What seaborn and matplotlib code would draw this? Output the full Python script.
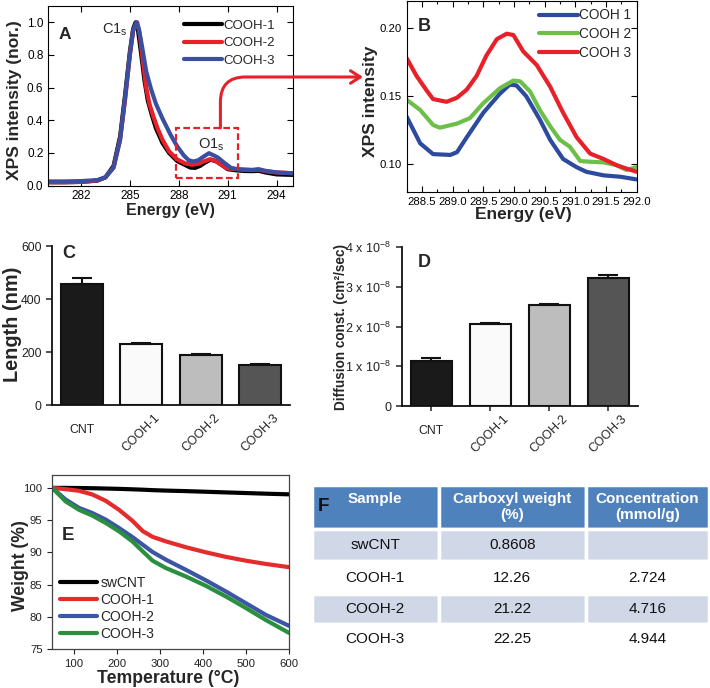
import matplotlib
matplotlib.use("Agg")
import numpy as np
import pandas as pd
import matplotlib.pyplot as plt
import matplotlib.transforms as mtrans
import seaborn as sns
from matplotlib.patches import Rectangle, ConnectionPatch
from matplotlib.ticker import MultipleLocator, FormatStrFormatter, FuncFormatter

# ---------------- data ----------------
# A: XPS survey (C1s / O1s)
xps_cooh1_ev = [280.0, 281.0, 282.0, 283.0, 283.5, 284.0, 284.4, 284.7, 285.0, 285.2, 285.35,
                285.5, 285.7, 285.9, 286.1, 286.35, 286.6, 287.0, 287.4, 287.9, 288.4, 288.7,
                289.0, 289.3, 289.6, 289.95, 290.3, 290.6, 291.0, 291.5, 292.0, 292.5, 292.9,
                293.3, 294.0, 295.0]
xps_cooh1 = [0.02, 0.02, 0.022, 0.03, 0.05, 0.12, 0.30, 0.55, 0.82, 0.96, 1.0,
             0.95, 0.80, 0.64, 0.52, 0.43, 0.35, 0.26, 0.20, 0.15, 0.125, 0.11,
             0.108, 0.12, 0.14, 0.158, 0.148, 0.128, 0.10, 0.093, 0.089, 0.088, 0.09,
             0.08, 0.068, 0.065]
xps_cooh2_ev = [280.0, 281.0, 282.0, 283.0, 283.5, 284.0, 284.4, 284.7, 285.0, 285.2, 285.45,
                285.6, 285.8, 286.0, 286.2, 286.45, 286.7, 287.0, 287.4, 287.9, 288.4, 288.8,
                289.2, 289.5, 289.9, 290.2, 290.6, 291.0, 291.5, 292.0, 292.5, 292.9, 293.3,
                294.0, 295.0]
xps_cooh2 = [0.02, 0.02, 0.022, 0.03, 0.05, 0.11, 0.28, 0.52, 0.80, 0.95, 1.0,
             0.93, 0.76, 0.60, 0.50, 0.42, 0.35, 0.28, 0.21, 0.16, 0.135, 0.127,
             0.133, 0.146, 0.161, 0.153, 0.128, 0.104, 0.10, 0.098, 0.096, 0.097, 0.088,
             0.08, 0.075]
xps_cooh3_ev = [280.0, 281.0, 282.0, 283.0, 283.5, 284.0, 284.4, 284.7, 285.0, 285.2, 285.4,
                285.55, 285.75, 286.0, 286.3, 286.6, 287.0, 287.5, 287.9, 288.3, 288.6, 288.9,
                289.2, 289.5, 289.85, 290.15, 290.4, 290.8, 291.2, 291.6, 292.0, 292.5, 292.9,
                293.3, 294.0, 295.0]
xps_cooh3 = [0.025, 0.025, 0.027, 0.033, 0.05, 0.11, 0.28, 0.53, 0.80, 0.95, 1.0,
             0.96, 0.85, 0.70, 0.59, 0.50, 0.41, 0.31, 0.24, 0.185, 0.155, 0.147,
             0.155, 0.176, 0.198, 0.184, 0.171, 0.138, 0.108, 0.10, 0.096, 0.094, 0.10,
             0.09, 0.08, 0.075]

# B: O1s zoom
o1s_1_ev = [288.25, 288.47, 288.68, 288.96, 289.07, 289.23, 289.5, 289.77, 289.93, 290.04,
            290.2, 290.42, 290.59, 290.8, 291.02, 291.18, 291.46, 291.73, 292.0]
o1s_1 = [0.135, 0.1155, 0.1076, 0.107, 0.109, 0.120, 0.138, 0.152, 0.1586, 0.158,
         0.150, 0.133, 0.118, 0.104, 0.098, 0.0946, 0.092, 0.091, 0.089]
o1s_2_ev = [288.25, 288.47, 288.68, 288.79, 289.07, 289.28, 289.5, 289.77, 289.99, 290.1,
            290.26, 290.42, 290.59, 290.75, 290.91, 291.08, 291.24, 291.46, 291.67, 291.83, 292.0]
o1s_2 = [0.1475, 0.140, 0.129, 0.127, 0.130, 0.134, 0.145, 0.156, 0.1616, 0.161,
         0.1537, 0.140, 0.128, 0.118, 0.113, 0.1025, 0.102, 0.1015, 0.0995, 0.096, 0.098]
o1s_3_ev = [288.25, 288.41, 288.58, 288.68, 288.9, 289.07, 289.23, 289.39, 289.55, 289.72,
            289.88, 289.99, 290.15, 290.37, 290.59, 290.8, 291.02, 291.24, 291.46, 291.67,
            291.83, 292.0]
o1s_3 = [0.178, 0.165, 0.154, 0.148, 0.146, 0.149, 0.155, 0.165, 0.180, 0.192,
         0.196, 0.195, 0.183, 0.173, 0.157, 0.138, 0.120, 0.108, 0.104, 0.0995,
         0.097, 0.0946]

# C / D: bars
bar_samples = ["CNT", "COOH-1", "COOH-2", "COOH-3"]
length_nm = [455, 232, 190, 150]
length_err = [23, 3, 3, 4]
diffusion = [1.14e-8, 2.06e-8, 2.53e-8, 3.21e-8]
diffusion_err = [0.06e-8, 0.02e-8, 0.03e-8, 0.08e-8]
bar_colors = ["#1a1a1a", "#fafafa", "#bdbdbd", "#555555"]

# E: TGA
tga_temp = [50, 81, 112, 143, 174, 205, 236, 260, 283, 314, 360, 407, 453, 500, 546, 600]
tga_swcnt = [100.0, 100.0, 99.98, 99.95, 99.9, 99.85, 99.78, 99.72, 99.65, 99.58,
             99.5, 99.4, 99.3, 99.2, 99.1, 99.0]
tga_cooh1 = [100.0, 99.8, 99.55, 98.98, 98.0, 96.6, 94.9, 93.3, 92.4, 91.7,
             90.8, 90.0, 89.3, 88.7, 88.2, 87.7]
tga_cooh2 = [100.0, 98.19, 96.9, 96.1, 95.08, 93.78, 92.38, 91.19, 90.05, 88.86,
             87.3, 85.65, 83.94, 82.1, 80.3, 78.6]
tga_cooh3 = [100.0, 97.9, 96.6, 95.7, 94.56, 93.26, 91.7, 90.16, 88.7, 87.56,
             86.27, 84.8, 83.16, 81.35, 79.5, 77.5]

# F: table
table_header = ["Sample\n ", "Carboxyl weight\n(%)", "Concentration\n(mmol/g)"]
table_rows = [["swCNT", "0.8608", ""],
              ["COOH-1", "12.26", "2.724"],
              ["COOH-2", "21.22", "4.716"],
              ["COOH-3", "22.25", "4.944"]]

RED = "#e8202a"
BLUE = "#3a4fa0"
GREEN = "#6cc04a"

# ---------------- style ----------------
sns.set_style("ticks")
plt.rcParams["font.family"] = ["Liberation Sans", "DejaVu Sans"]
plt.rcParams["mathtext.fontset"] = "custom"
plt.rcParams["mathtext.rm"] = "Liberation Sans"
plt.rcParams["mathtext.it"] = "Liberation Sans:italic"
plt.rcParams["mathtext.bf"] = "Liberation Sans:bold"

W, H = 710, 688
fig = plt.figure(figsize=(W / 100, H / 100), dpi=100)


def px_axes(l, t, r, b):
    return fig.add_axes([l / W, 1 - b / H, (r - l) / W, (b - t) / H])


# ---------------- A ----------------
ax_a = px_axes(48.3, 6, 293, 185.5)
sns.lineplot(x=xps_cooh1_ev, y=xps_cooh1, ax=ax_a, color="black", lw=3, label="COOH-1")
sns.lineplot(x=xps_cooh2_ev, y=xps_cooh2, ax=ax_a, color=RED, lw=3, label="COOH-2")
sns.lineplot(x=xps_cooh3_ev, y=xps_cooh3, ax=ax_a, color=BLUE, lw=3, label="COOH-3")
ax_a.set_xlim(280, 295)
ax_a.set_ylim(0, 1.1)
ax_a.set_xticks([282, 285, 288, 291, 294])
ax_a.set_yticks([0.0, 0.2, 0.4, 0.6, 0.8, 1.0])
ax_a.yaxis.set_major_formatter(FormatStrFormatter("%.1f"))
ax_a.tick_params(direction="in", top=True, right=True, length=4, width=0.8,
                 labelsize=8.5, colors="black")
for s in ax_a.spines.values():
    s.set_color("black")
    s.set_linewidth(0.8)
ax_a.set_xlabel("Energy (eV)", fontsize=11.5, fontweight="bold")
ax_a.set_ylabel("XPS intensity (nor.)", fontsize=12.5, fontweight="bold")
ax_a.xaxis.set_label_coords(0.5, -0.095)
ax_a.yaxis.set_label_coords(-0.108, 0.476)
ax_a.legend(loc="upper left", bbox_to_anchor=(0.555, 0.925), frameon=False, fontsize=9.5,
            handlelength=2.9, handletextpad=0.05, labelspacing=0.4, borderpad=0,
            borderaxespad=0)
ax_a.text(0.04, 0.844, "A", transform=ax_a.transAxes, fontsize=12.5, fontweight="bold",
          va="center", ha="left")
ax_a.text(0.218, 0.848, r"C1$_\mathregular{s}$", transform=ax_a.transAxes, fontsize=10.5,
          va="baseline", ha="left")
ax_a.text(0.612, 0.205, r"O1$_\mathregular{s}$", transform=ax_a.transAxes, fontsize=10.5,
          va="baseline", ha="left", zorder=6)
ax_a.add_patch(Rectangle((287.85, 0.043), 3.77, 0.31, fill=False, ec=RED, lw=1.6,
                         ls=(0, (3, 1.5)), zorder=5))
arrow = ConnectionPatch(xyA=(290.55, 0.353), coordsA=ax_a.transData,
                        xyB=(363 / W, 1 - 77 / H), coordsB=fig.transFigure,
                        arrowstyle="->,head_length=0.7,head_width=0.45",
                        connectionstyle="angle,angleA=90,angleB=0,rad=25",
                        color=RED, lw=2.2)
fig.add_artist(arrow)

# ---------------- B ----------------
ax_b = px_axes(406.7, 1, 636.7, 191.7)
sns.lineplot(x=o1s_1_ev, y=o1s_1, ax=ax_b, color="#2c4a9e", lw=3, label="COOH 1")
sns.lineplot(x=o1s_2_ev, y=o1s_2, ax=ax_b, color=GREEN, lw=3, label="COOH 2")
sns.lineplot(x=o1s_3_ev, y=o1s_3, ax=ax_b, color=RED, lw=3, label="COOH 3")
ax_b.set_xlim(288.25, 292.0)
ax_b.set_ylim(0.08, 0.22)
ax_b.xaxis.set_major_locator(MultipleLocator(0.5))
ax_b.xaxis.set_minor_locator(MultipleLocator(0.25))
ax_b.xaxis.set_major_formatter(FormatStrFormatter("%.1f"))
ax_b.yaxis.set_major_locator(MultipleLocator(0.05))
ax_b.yaxis.set_major_formatter(FormatStrFormatter("%.2f"))
ax_b.tick_params(which="both", direction="in", top=True, right=True, width=0.8,
                 labelsize=8.2, colors="black")
ax_b.tick_params(which="major", length=4)
ax_b.tick_params(which="minor", length=2.5)
for s in ax_b.spines.values():
    s.set_color("black")
    s.set_linewidth(0.8)
ax_b.set_xlabel("Energy (eV)", fontsize=12.5, fontweight="bold")
ax_b.set_ylabel("XPS intensity", fontsize=12.5, fontweight="bold")
ax_b.xaxis.set_label_coords(0.507, -0.08)
ax_b.yaxis.set_label_coords(-0.125, 0.472)
ax_b.legend(loc="upper left", bbox_to_anchor=(0.575, 0.961), frameon=False, fontsize=9.8,
            handlelength=2.9, handletextpad=0.05, labelspacing=0.35, borderpad=0,
            borderaxespad=0)
ax_b.text(0.049, 0.864, "B", transform=ax_b.transAxes, fontsize=13, fontweight="bold",
          va="center", ha="left")


# ---------------- C / D ----------------
def bar_panel(ax, values, errors, tick_len, pad, ylabsize):
    df = pd.DataFrame({"sample": bar_samples, "value": values})
    sns.barplot(data=df, x="sample", y="value", hue="sample", palette=bar_colors,
                legend=False, saturation=1, width=0.7, edgecolor="#111111", linewidth=1.5,
                errorbar=None, ax=ax)
    ax.errorbar(x=np.arange(len(values)), y=values,
                yerr=[np.zeros(len(values)), errors], fmt="none", ecolor="#111111",
                elinewidth=1.5, capsize=7.5, capthick=1.5, zorder=1)
    ax.set_xlim(-0.5, 3.5)
    sns.despine(ax=ax)
    for s in ("left", "bottom"):
        ax.spines[s].set_linewidth(1.3)
        ax.spines[s].set_color("#111111")
    ax.set_xlabel("")
    ax.tick_params(axis="y", direction="out", length=4, width=1.1, labelsize=ylabsize,
                   colors="#222222")
    ax.tick_params(axis="x", direction="out", length=tick_len, width=1.1, pad=pad,
                   labelsize=8.8, colors="#222222")
    labels = ax.get_xticklabels()
    for i, lab in enumerate(labels):
        if i == 0:
            lab.set_rotation(0)
            lab.set_ha("center")
            lab.set_transform(lab.get_transform() +
                              mtrans.ScaledTranslation(0, -9 / 72, fig.dpi_scale_trans))
        else:
            lab.set_rotation(45)
            lab.set_ha("center")


ax_c = px_axes(52, 246, 290, 405)
bar_panel(ax_c, length_nm, length_err, 0, 5, 8.8)
ax_c.set_ylim(0, 600)
ax_c.set_yticks([0, 200, 400, 600])
ax_c.set_ylabel("Length (nm)", fontsize=14.3, fontweight="bold")
ax_c.yaxis.set_label_coords(-0.125, 0.51)
ax_c.text(0.041, 0.95, "C", transform=ax_c.transAxes, fontsize=13, fontweight="bold",
          va="center", ha="left")

ax_d = px_axes(401.7, 247, 638, 406)
bar_panel(ax_d, diffusion, diffusion_err, 3.6, 1.2, 9)
ax_d.set_ylim(0, 4e-8)
ax_d.yaxis.set_major_locator(MultipleLocator(1e-8))
ax_d.yaxis.set_major_formatter(FuncFormatter(
    lambda v, _: "0" if abs(v) < 1e-12 else f"{v / 1e-8:.0f} x 10$^{{\\mathregular{{-8}}}}$"))
ax_d.yaxis.get_offset_text().set_visible(False)
ax_d.set_ylabel("Diffusion const. (cm²/sec)", fontsize=9.8, fontweight="bold")
ax_d.yaxis.set_label_coords(-0.227, 0.5)
ax_d.text(0.069, 0.90, "D", transform=ax_d.transAxes, fontsize=13, fontweight="bold",
          va="center", ha="left")

# ---------------- E ----------------
ax_e = px_axes(52.3, 475, 289, 649)
sns.lineplot(x=tga_temp, y=tga_swcnt, ax=ax_e, color="black", lw=3, label="swCNT")
sns.lineplot(x=tga_temp, y=tga_cooh1, ax=ax_e, color="#e52b2b", lw=3, label="COOH-1")
sns.lineplot(x=tga_temp, y=tga_cooh2, ax=ax_e, color="#3c55a5", lw=3, label="COOH-2")
sns.lineplot(x=tga_temp, y=tga_cooh3, ax=ax_e, color="#2a9040", lw=3, label="COOH-3")
ax_e.set_xlim(50, 600)
ax_e.set_ylim(75, 102)
ax_e.set_xticks([100, 200, 300, 400, 500, 600])
ax_e.set_yticks([75, 80, 85, 90, 95, 100])
ax_e.tick_params(direction="out", length=3.5, width=0.8, labelsize=8.2, colors="#222222")
for s in ax_e.spines.values():
    s.set_color("#444444")
    s.set_linewidth(0.9)
ax_e.set_xlabel("Temperature (°C)", fontsize=12.7, fontweight="bold")
ax_e.set_ylabel("Weight (%)", fontsize=12.7, fontweight="bold")
ax_e.xaxis.set_label_coords(0.49, -0.118)
ax_e.yaxis.set_label_coords(-0.1, 0.478)
ax_e.legend(loc="upper left", bbox_to_anchor=(0.033, 0.418), frameon=False, fontsize=10,
            handlelength=2.66, handletextpad=0.25, labelspacing=0.2, borderpad=0,
            borderaxespad=0)
ax_e.text(0.04, 0.655, "E", transform=ax_e.transAxes, fontsize=13.5, fontweight="bold",
          va="center", ha="left")

# ---------------- F ----------------
ax_f = px_axes(311.7, 485, 709, 654)
ax_f.axis("off")
col_w = np.array([127.3, 146.7, 123.3])
tbl = ax_f.table(cellText=table_rows, colLabels=table_header, colWidths=list(col_w / col_w.sum()),
                 cellLoc="center", bbox=[0, 0, 1, 1])
tbl.auto_set_font_size(False)
tbl.set_fontsize(11)
row_h = [44, 32, 33, 30, 30]
row_bg = ["#4f81bd", "#d0d8e8", "#ffffff", "#d0d8e8", "#ffffff"]
for (r, c), cell in tbl.get_celld().items():
    cell.set_height(row_h[r])
    cell.set_facecolor(row_bg[r])
    cell.set_edgecolor("white")
    cell.set_linewidth(2.5)
    txt = cell.get_text()
    if r == 0:
        txt.set_color("white")
        txt.set_fontweight("bold")
    else:
        txt.set_color("#111111")
ax_f.text(0.016, 0.87, "F", transform=ax_f.transAxes, fontsize=13.5, fontweight="bold",
          va="center", ha="left", color="#111111", zorder=10)

fig.savefig("out.png", dpi=100)
